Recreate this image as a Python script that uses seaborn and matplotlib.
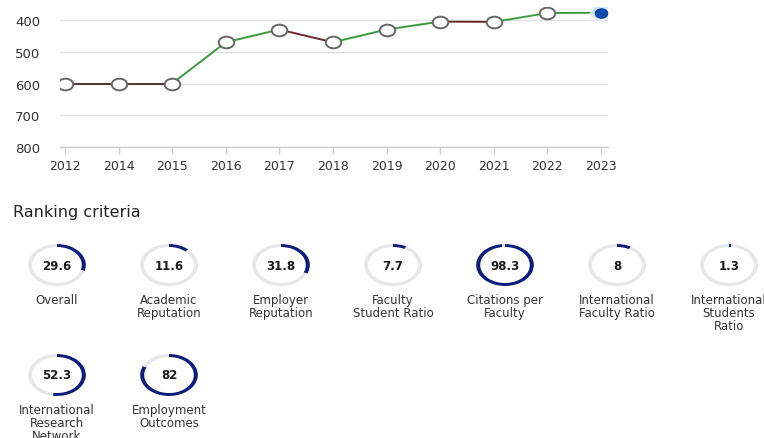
import numpy as np
import pandas as pd
import matplotlib
matplotlib.use("Agg")
import matplotlib.pyplot as plt
from matplotlib.path import Path
import seaborn as sns

# ---------------- data ----------------
years = ["2012", "2014", "2015", "2016", "2017", "2018", "2019", "2020", "2021", "2022", "2023"]
ranks = [600, 600, 600, 470, 430, 470, 430, 405, 406, 378, 377]

criteria = ["Overall", "Academic\nReputation", "Employer\nReputation", "Faculty\nStudent Ratio",
            "Citations per\nFaculty", "International\nFaculty Ratio", "International\nStudents\nRatio",
            "International\nResearch\nNetwork", "Employment\nOutcomes"]
scores = [29.6, 11.6, 31.8, 7.7, 98.3, 8, 1.3, 52.3, 82]
score_labels = ["29.6", "11.6", "31.8", "7.7", "98.3", "8", "1.3", "52.3", "82"]

# ---------------- style ----------------
sns.set_theme(style="white")
plt.rcParams['font.family'] = ['DejaVu Sans']

W, H = 764, 439
fig = plt.figure(figsize=(W / 100, H / 100), dpi=100)
fig.patch.set_facecolor("white")


def px(x0, y0, x1, y1):
    return [x0 / W, 1 - y1 / H, (x1 - x0) / W, (y1 - y0) / H]


# ---------------- line chart ----------------
ax = fig.add_axes(px(60, 8, 608, 148))
pos = np.arange(len(years))
df = pd.DataFrame({"pos": pos, "rank": ranks, "year": years})

GREEN, WORSE, FLAT = "#3e9a3e", "#6b2b2b", "#4a3434"
for i in range(len(df) - 1):
    seg = df.iloc[i:i + 2]
    a, b = ranks[i], ranks[i + 1]
    col = GREEN if b < a else (WORSE if b > a else FLAT)
    sns.lineplot(data=seg, x="pos", y="rank", color=col, lw=1.4, ax=ax, sort=False, zorder=2)

circ = Path.unit_circle()
ell = Path(circ.vertices * np.array([1.0, 0.75]), circ.codes)

sns.scatterplot(data=df.iloc[:-1], x="pos", y="rank", marker=ell, s=125,
                color="white", edgecolor="#666666", linewidth=1.4, ax=ax, zorder=3)
last = df.iloc[-1:]
sns.scatterplot(data=last, x="pos", y="rank", marker=ell, s=260,
                color="#e3edf9", edgecolor="none", alpha=0.8, ax=ax, zorder=3)
sns.scatterplot(data=last, x="pos", y="rank", marker=ell, s=160,
                color="#c9dcf3", edgecolor="none", alpha=0.8, ax=ax, zorder=3)
sns.scatterplot(data=last, x="pos", y="rank", marker=ell, s=80,
                color="#0b4db0", edgecolor="#0a3a88", linewidth=0.8, ax=ax, zorder=4)

ax.set_xlim(-5 / 53.6, 10 + 7 / 53.6)
ax.set_ylim(800, 359)
ax.set_yticks([400, 500, 600, 700, 800])
ax.set_xticks(pos)
ax.set_xticklabels(years)
ax.set_xlabel("")
ax.set_ylabel("")
ax.yaxis.grid(True, color="#e0e0e0", lw=1)
ax.xaxis.grid(False)
for s in ["top", "right", "left"]:
    ax.spines[s].set_visible(False)
ax.spines["bottom"].set_color("#cfcfcf")
ax.spines["bottom"].set_linewidth(1)
ax.tick_params(axis="y", length=0, pad=14, labelsize=9.5, labelcolor="#333333")
ax.tick_params(axis="x", length=5, width=1, color="#cfcfcf", pad=4, labelsize=9,
               labelcolor="#333333", bottom=True)
ax.set_facecolor("white")

# ---------------- ranking criteria ----------------
fig.text(13 / W, 1 - 213 / H, "Ranking criteria", fontsize=11.5, color="#222222", va="center", ha="left")

NAVY, GREY = "#0c1f78", "#e7e7e7"
for i, (lab, val, vlab) in enumerate(zip(criteria, scores, score_labels)):
    row, col = divmod(i, 7)
    cx = 57 + 112 * col
    cy = 266 + 110 * row
    gax = fig.add_axes(px(cx - 30, cy - 22, cx + 30, cy + 22))
    gax.pie([val, 100 - val], colors=[NAVY, GREY], startangle=90, counterclock=False,
            wedgeprops=dict(width=0.14, linewidth=0))
    gax.set_aspect("auto")
    gax.set_xlim(-1.04, 1.04)
    gax.set_ylim(-1.05, 1.05)
    gax.axis("off")
    gax.text(0, 0, vlab, ha="center", va="center", fontsize=8.5, fontweight="bold", color="#1b1b1b")
    fig.text(cx / W, 1 - (cy + 28) / H, lab, ha="center", va="top", fontsize=8.5,
             color="#333333", linespacing=1.0)

fig.savefig("out.png", dpi=100, facecolor="white")
